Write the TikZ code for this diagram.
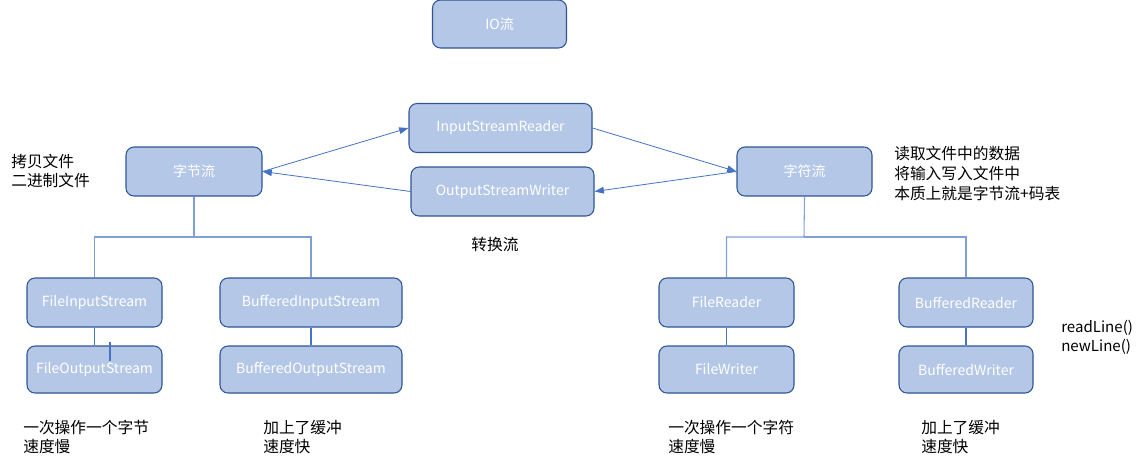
\documentclass[tikz,border=0pt]{standalone}
\usepackage{fontspec}
\setmainfont{Noto Sans CJK SC}
\usetikzlibrary{arrows.meta}
\definecolor{boxfill}{HTML}{B4C7E7}
\definecolor{boxdraw}{HTML}{2F5597}
\definecolor{arrowcol}{HTML}{4472C4}
\definecolor{treecol}{HTML}{7F9FD6}
\tikzset{
  cls/.style={draw=boxdraw, fill=boxfill, line width=0.8pt, rounded corners=6pt,
    text=white, font=\fontsize{10.5}{12}\selectfont, inner sep=0pt,
    minimum width=#1*0.75pt},
  cls/.default=135,
  tall/.style={minimum height=36.75pt},
  short/.style={minimum height=35.25pt},
  note/.style={font=\fontsize{11.8}{14.7}\selectfont, align=left, anchor=west, inner sep=0pt, text=black},
  conv/.style={draw=arrowcol, line width=0.6pt, -{Triangle[length=7pt,width=5pt]}},
  tree/.style={draw=treecol, line width=0.8pt},
  pair/.style={draw=arrowcol, line width=0.8pt},
}
\begin{document}
\begin{tikzpicture}[x=0.75pt,y=-0.75pt]
\useasboundingbox (0,0) rectangle (1139,465);
% top
\node[cls=134, minimum height=36pt] (io) at (499.5,24) {IO流};
\node[cls=183, tall] (isr) at (500.5,128) {InputStreamReader};
\node[cls=183, tall] (osw) at (502.5,191.5) {OutputStreamWriter};
\node[cls=136, tall] (zj) at (194,171.5) {字节流};
\node[cls=135, tall] (zf) at (804.5,171.5) {字符流};
% children
\node[cls=135, tall] (fis) at (94.5,302.5) {FileInputStream};
\node[cls=135, short] (fos) at (94.5,369.5) {FileOutputStream};
\node[cls=182, tall] (bis) at (311,302.5) {BufferedInputStream};
\node[cls=182, short] (bos) at (311,369.5) {BufferedOutputStream};
\node[cls=135, tall] (fr) at (726.5,302.5) {FileReader};
\node[cls=135, short] (fw) at (726.5,369.5) {FileWriter};
\node[cls=134, tall] (br) at (966,302.5) {BufferedReader};
\node[cls=134, short] (bw) at (966,369.5) {BufferedWriter};
% conversion arrows
\draw[conv] (zj.east) -- (isr.west);
\draw[conv] (osw.west) -- (zj.east);
\draw[conv] (isr.east) -- (zf.west);
\draw[conv] (zf.west) -- (osw.east);
% trees
\coordinate (zjbus) at (194,237);
\coordinate (zfbus) at (804,237);
\draw[tree] (zj.south) -- (zjbus) -| (fis.north);
\draw[tree] (zjbus) -| (bis.north);
\draw[tree] (zf.south) -- (zfbus) -| (fr.north);
\draw[tree] (zfbus) -| (br.north);
\draw[pair] (fis.south) -- (fos.north);
\draw[pair] (bis.south) -- (bos.north);
\draw[pair] (fr.south) -- (fw.north);
\draw[pair] (br.south) -- (bw.north);
\coordinate (s1) at (110,342);
\coordinate (s2) at (110,361);
\draw[pair] (s1) -- (s2);
% notes
\node[note] (n1) at (11,171) {拷贝文件\\二进制文件};
\node[note] (n2) at (894,173.5) {读取文件中的数据\\将输入写入文件中\\本质上就是字节流+码表};
\node[note, anchor=center] (n3) at (495,245) {转换流};
\node[note] (n4) at (23,437) {一次操作一个字节\\速度慢};
\node[note] (n5) at (263,437) {加上了缓冲\\速度快};
\node[note] (n6) at (668,437) {一次操作一个字符\\速度慢};
\node[note] (n7) at (921,437) {加上了缓冲\\速度快};
\node[note, font=\fontsize{11.3}{14.3}\selectfont] (n8) at (1061,337.5) {readLine()\\newLine()};
\end{tikzpicture}
\end{document}
